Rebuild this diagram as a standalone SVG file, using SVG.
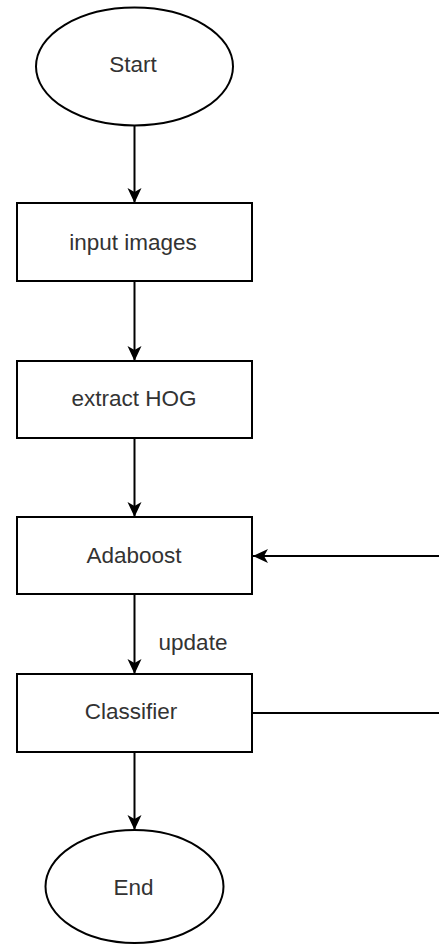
<svg xmlns="http://www.w3.org/2000/svg" width="439" height="944" viewBox="0 0 439 944">
<style>
.shape{fill:#ffffff;stroke:#000000;stroke-width:2}
.lbl{font-family:"Liberation Sans",Arial,sans-serif;font-size:22.5px;fill:#333333;text-anchor:middle}
.edge{fill:none;stroke:#000000;stroke-width:2}
</style>
<defs>
<marker id="arr" markerUnits="userSpaceOnUse" markerWidth="16" markerHeight="16" viewBox="0 0 16 14" refX="15" refY="7" orient="auto">
<path d="M0,0 L15,7 L0,14 L4,7 Z" fill="#000000"/>
</marker>
</defs>
<rect width="439" height="944" fill="#ffffff"/>
<g id="connectors">
<line class="edge" x1="134.5" y1="126" x2="134.5" y2="203" marker-end="url(#arr)"/>
<line class="edge" x1="134.5" y1="282" x2="134.5" y2="361" marker-end="url(#arr)"/>
<line class="edge" x1="134.5" y1="438" x2="134.5" y2="517" marker-end="url(#arr)"/>
<line class="edge" x1="134.5" y1="594" x2="134.5" y2="674" marker-end="url(#arr)"/>
<line class="edge" x1="134.5" y1="752" x2="134.5" y2="830" marker-end="url(#arr)"/>
<line class="edge" x1="439" y1="556" x2="253" y2="556" marker-end="url(#arr)"/>
<line class="edge" x1="252" y1="713" x2="439" y2="713"/>
<text class="lbl" x="193" y="650">update</text>
</g>
<g id="start">
<ellipse class="shape" cx="134.5" cy="66.5" rx="98.5" ry="59"/>
<text class="lbl" x="133" y="72">Start</text>
</g>
<g id="input">
<rect class="shape" x="17" y="203" width="235" height="78"/>
<text class="lbl" x="133" y="250">input images</text>
</g>
<g id="hog">
<rect class="shape" x="17" y="361" width="235" height="77"/>
<text class="lbl" x="134" y="406">extract HOG</text>
</g>
<g id="adaboost">
<rect class="shape" x="17" y="517" width="235" height="77"/>
<text class="lbl" x="134" y="563">Adaboost</text>
</g>
<g id="classifier">
<rect class="shape" x="17" y="674" width="235" height="78"/>
<text class="lbl" x="131" y="719">Classifier</text>
</g>
<g id="end">
<ellipse class="shape" cx="134.5" cy="886.5" rx="89" ry="56.5"/>
<text class="lbl" x="133.5" y="895">End</text>
</g>
</svg>
